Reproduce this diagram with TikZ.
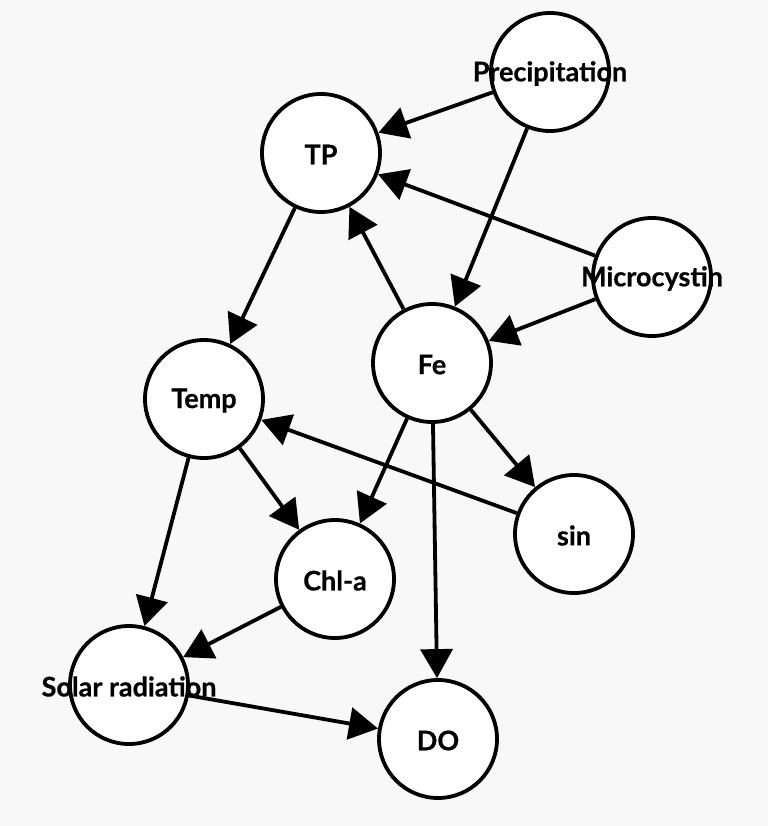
\documentclass[tikz,border=0pt]{standalone}
\usepackage{fontspec}
\setmainfont{Lato}[BoldFeatures={FakeBold=0.6}]
\usetikzlibrary{arrows.meta}
\definecolor{bgc}{RGB}{248,248,248}
\begin{document}
\begin{tikzpicture}[x=1pt,y=-1pt,
  vnode/.style={circle,draw=black,fill=white,line width=3.8pt,minimum size=118pt,inner sep=0pt},
  vlabel/.style={font=\fontsize{27}{30}\selectfont\bfseries,yshift=-1.5pt},
  edge/.style={line width=3.8pt,-{Triangle[length=29pt,width=32pt]}}]
\fill[bgc] (0,0) rectangle (768,826);
\useasboundingbox (0,0) rectangle (768,826);
\node[vnode] (prec) at (550,72) {};
\node[vnode] (tp) at (321,153) {};
\node[vnode] (micro) at (652,277) {};
\node[vnode] (fe) at (432,363) {};
\node[vnode] (temp) at (204,399) {};
\node[vnode] (sin) at (574,534) {};
\node[vnode] (chla) at (335,579) {};
\node[vnode] (solar) at (129,685) {};
\node[vnode] (do) at (438,739) {};
\draw[edge] (prec) -- (tp);
\draw[edge] (prec) -- (fe);
\draw[edge] (micro) -- (tp);
\draw[edge] (micro) -- (fe);
\draw[edge] (fe) -- (tp);
\draw[edge] (tp) -- (temp);
\draw[edge] (fe) -- (chla);
\draw[edge] (fe) -- (sin);
\draw[edge] (fe) -- (do);
\draw[edge] (sin) -- (temp);
\draw[edge] (temp) -- (chla);
\draw[edge] (temp) -- (solar);
\draw[edge] (chla) -- (solar);
\draw[edge] (solar) -- (do);
\node[vlabel] (prect) at (prec) {Precipitation};
\node[vlabel] (tpt) at (tp) {TP};
\node[vlabel] (microt) at (micro) {Microcystin};
\node[vlabel] (fet) at (fe) {Fe};
\node[vlabel] (tempt) at (temp) {Temp};
\node[vlabel] (sint) at (sin) {sin};
\node[vlabel] (chlat) at (chla) {Chl-a};
\node[vlabel] (solart) at (solar) {Solar radiation};
\node[vlabel] (dot) at (do) {DO};
\end{tikzpicture}
\end{document}
